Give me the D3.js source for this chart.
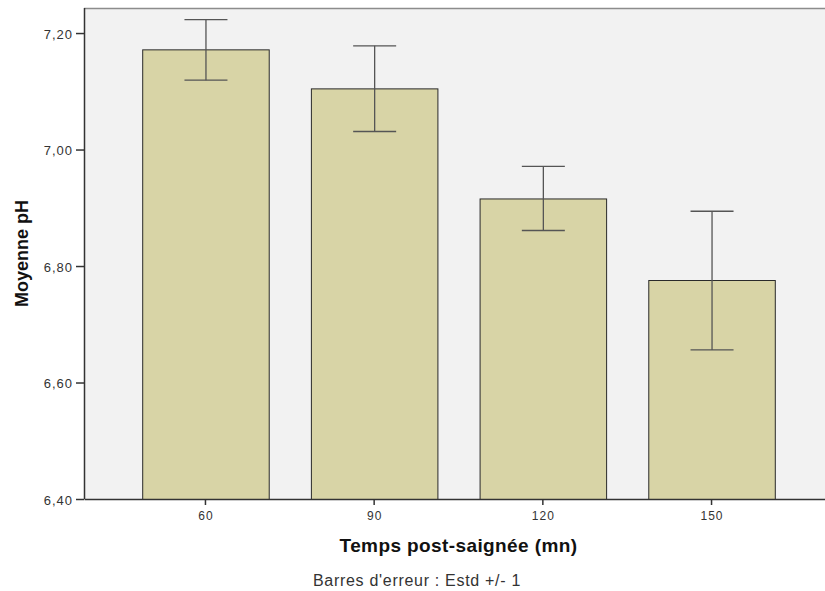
<!DOCTYPE html>
<html>
<head>
<meta charset="utf-8">
<script src="https://cdn.jsdelivr.net/npm/d3@7"></script>
<style>
  body { margin: 0; background: #fff; }
  text { font-family: "Liberation Sans", Arial, sans-serif; }
</style>
</head>
<body>
<svg width="825" height="591"></svg>
<script>
const categories = ["60", "90", "120", "150"];
const means = [7.172, 7.105, 6.916, 6.776];
const errLow = [7.119, 7.031, 6.861, 6.656];
const errHigh = [7.223, 7.178, 6.971, 6.894];
const yTicks = [6.4, 6.6, 6.8, 7.0, 7.2];

const plotLeft = 84, plotRight = 833, plotTop = 8, plotBottom = 499;

const svg = d3.select("svg");

const x = d3.scaleBand()
    .domain(categories)
    .range([plotLeft, plotRight])
    .paddingInner(0.25)
    .paddingOuter(0.345);

const y = d3.scaleLinear()
    .domain([6.4, 7.243])
    .range([plotBottom, plotTop]);

// plot background
svg.append("rect")
    .attr("x", plotLeft).attr("y", plotTop)
    .attr("width", plotRight - plotLeft).attr("height", plotBottom - plotTop)
    .attr("fill", "#f2f2f2");

svg.append("line")
    .attr("x1", plotLeft).attr("x2", plotRight)
    .attr("y1", plotTop + 0.5).attr("y2", plotTop + 0.5)
    .attr("stroke", "#8c8c8c").attr("stroke-width", 1.5);

const data = categories.map((c, i) => ({ c, m: means[i], lo: errLow[i], hi: errHigh[i] }));

svg.append("g")
    .selectAll("rect")
    .data(data)
    .join("rect")
    .attr("x", d => x(d.c) + 0.5)
    .attr("y", d => y(d.m) + 0.5)
    .attr("width", x.bandwidth())
    .attr("height", d => y(6.4) - y(d.m))
    .attr("fill", "#d8d4a6")
    .attr("stroke", "#2a2a2a")
    .attr("stroke-width", 1);

// error bars
const err = svg.append("g")
    .attr("stroke", "#555")
    .attr("stroke-width", 1.3)
    .selectAll("g")
    .data(data)
    .join("g");

err.append("line")
    .attr("x1", d => x(d.c) + x.bandwidth() / 2 + 0.5)
    .attr("x2", d => x(d.c) + x.bandwidth() / 2 + 0.5)
    .attr("y1", d => y(d.hi))
    .attr("y2", d => y(d.lo));

err.selectAll(".cap")
    .data(d => [d.lo, d.hi].map(v => ({ c: d.c, v })))
    .join("line")
    .attr("x1", d => x(d.c) + x.bandwidth() / 2 - 21)
    .attr("x2", d => x(d.c) + x.bandwidth() / 2 + 22)
    .attr("y1", d => y(d.v))
    .attr("y2", d => y(d.v));

// axes
const yAxis = svg.append("g")
    .attr("transform", `translate(${plotLeft},0)`)
    .call(d3.axisLeft(y).tickValues(yTicks).tickSize(8).tickSizeOuter(0)
        .tickFormat(d => d3.format(".2f")(d).replace(".", ",")));
yAxis.select(".domain").attr("d", `M0.5,${plotTop}V${plotBottom}`).attr("stroke", "#333").attr("stroke-width", 1.5);
yAxis.selectAll(".tick line").attr("stroke", "#333").attr("stroke-width", 1.5);
yAxis.selectAll(".tick text")
    .attr("font-size", 13).attr("letter-spacing", 1).attr("fill", "#333")
    .attr("x", -11).attr("dy", "0.4em");

const xAxis = svg.append("g")
    .attr("transform", `translate(0,${plotBottom})`)
    .call(d3.axisBottom(x).tickSize(6).tickSizeOuter(0));
xAxis.select(".domain").attr("stroke", "#333").attr("stroke-width", 1.5);
xAxis.selectAll(".tick line").attr("stroke", "#333").attr("stroke-width", 1.5);
xAxis.selectAll(".tick text")
    .attr("font-size", 12).attr("letter-spacing", 1).attr("fill", "#333")
    .attr("y", 21).attr("dy", 0).attr("dx", 0.5);

// titles
svg.append("text")
    .attr("transform", `translate(27.5,${(plotTop + plotBottom) / 2}) rotate(-90)`)
    .attr("text-anchor", "middle")
    .attr("font-size", 18).attr("font-weight", "bold").attr("fill", "#111")
    .text("Moyenne pH");

svg.append("text")
    .attr("x", (plotLeft + plotRight) / 2).attr("y", 552)
    .attr("text-anchor", "middle")
    .attr("font-size", 19).attr("font-weight", "bold").attr("letter-spacing", 0.4).attr("fill", "#111")
    .text("Temps post-saignée (mn)");

svg.append("text")
    .attr("x", 417).attr("y", 586)
    .attr("text-anchor", "middle")
    .attr("font-size", 16).attr("letter-spacing", 0.7).attr("fill", "#333")
    .text("Barres d'erreur : Estd +/- 1");
</script>
</body>
</html>
